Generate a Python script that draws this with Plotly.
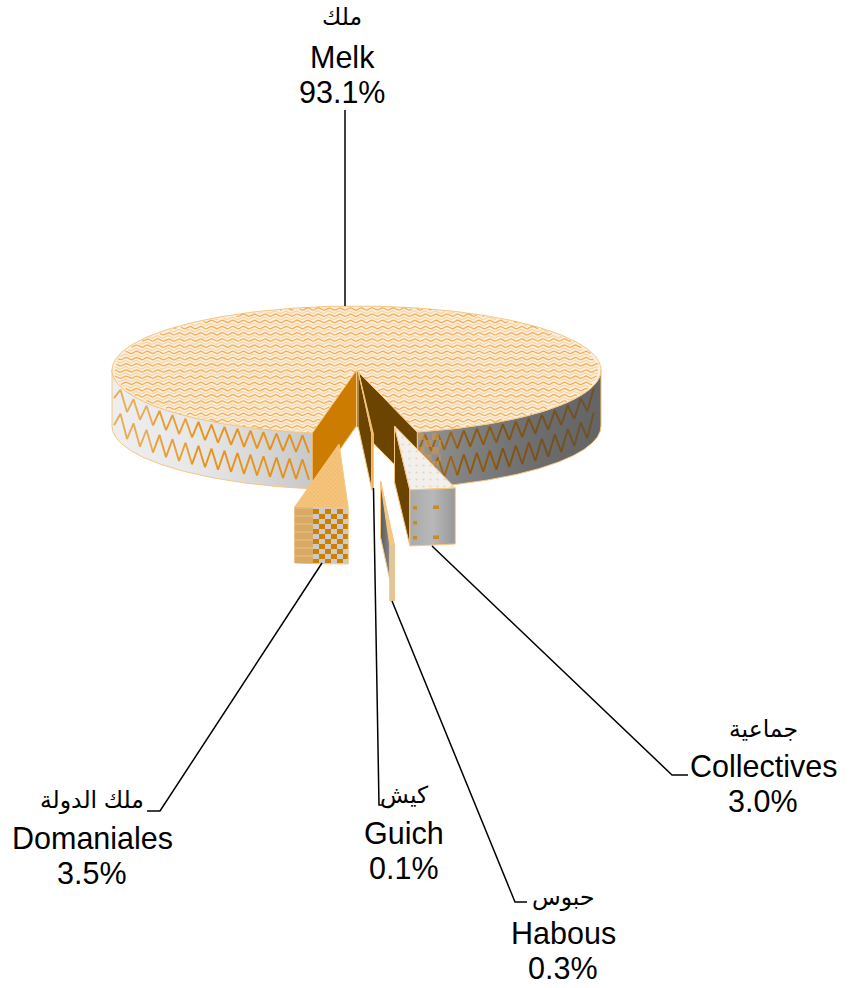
import numpy as np
import plotly.graph_objects as go

# ---- data ----
categories_fr = ["Melk", "Domaniales", "Habous", "Guich", "Collectives"]
categories_ar = ["ملك", "ملك الدولة", "حبوس", "كيش", "جماعية"]
shares = [93.1, 3.5, 0.3, 0.1, 3.0]

# ---- projection of the tilted disc, in page pixels ----
CX, CY, RX, RY, DEPTH = 356.5, 370.0, 244.5, 64.0, 56.0
START = 14.4  # angle at which Melk starts, measured from the front of the disc
ORANGE = (232, 148, 26)
EDGE = "#f6c681"

sweeps = [v / sum(shares) * 360 for v in shares]
melk_a = START
melk_b = START + sweeps[0]
dom_a = melk_b
dom_b = dom_a + sweeps[1]
hab_a = dom_b
hab_b = hab_a + sweeps[2]
gui_a = hab_b
gui_b = gui_a + sweeps[3]
col_a = gui_b
col_b = col_a + sweeps[4]


def px(phi, dx=0.0):
    return CX + RX * np.sin(np.radians(phi)) + dx


def py(phi, dy=0.0):
    return CY + RY * np.cos(np.radians(phi)) + dy


def arc(a, b, dx=0.0, dy=0.0, n=None):
    n = n or max(3, int(abs(b - a) * 2))
    t = np.linspace(a, b, n)
    return list(px(t, dx)), list(py(t, dy))


fig = go.Figure()


def poly(xs, ys, color=None, edge=EDGE, width=1.0, pattern=None, gradient=None):
    kw = {}
    if color:
        kw["fillcolor"] = color
    if pattern:
        kw["fillpattern"] = pattern
    if gradient:
        kw["fillgradient"] = dict(type="horizontal", colorscale=gradient)
    fig.add_trace(go.Scatter(x=xs, y=ys, mode="lines", fill="toself",
                             line=dict(color=edge, width=width), hoverinfo="skip", **kw))


def cells(x0, x1, y0, y1, w, h, color):
    xs, ys = [], []
    for j, top in enumerate(np.arange(y0, y1 - 0.5, h)):
        for i, left in enumerate(np.arange(x0, x1 - 0.5, w)):
            if (i + j) % 2 == 0:
                r, b = min(left + w, x1), min(top + h, y1)
                xs += [float(left), float(r), float(r), float(left), float(left), None]
                ys += [float(top), float(top), float(b), float(b), float(top), None]
    fig.add_trace(go.Scatter(x=xs, y=ys, mode="lines", fill="toself", fillcolor=color,
                             line=dict(width=0, color=color), hoverinfo="skip"))


def grey_at(x):
    return np.interp(x, [112, 200, 314, 418, 470, 540, 601], [238, 232, 200, 150, 128, 108, 100])


def side(a, b):
    xs, ys = arc(a, b)
    xb, yb = arc(b, a, dy=DEPTH)
    xmin, xmax = min(xs), max(xs)
    stops = []
    for f in np.linspace(0, 1, 9):
        g = int(grey_at(xmin + f * (xmax - xmin)))
        stops.append([float(f), f"rgb({g},{g},{g})"])
    poly(xs + xb + xs[:1], ys + yb + ys[:1], gradient=stops)


def zigzag(x_from, x_to):
    half = 6.5
    xs = np.arange(x_from, x_to + 1e-6, half)
    yrim = CY + RY * np.sqrt(np.clip(1 - ((xs - CX) / RX) ** 2, 0, 1))
    for top, low in ((3, 20), (27, 47)):
        offs = np.where(np.arange(len(xs)) % 2 == 0, low, top)
        for s in range(0, len(xs) - 1, 6):
            x = xs[s:s + 7]
            y = yrim[s:s + 7] + offs[s:s + 7]
            mid = x.mean()
            m = min(1.0, grey_at(mid) / 215 + 0.02)
            fade = np.interp(abs(mid - CX), [150, 240], [0.0, 0.35])
            bg = grey_at(mid)
            c = "rgb({},{},{})".format(*[int((v * m) * (1 - fade) + bg * fade) for v in ORANGE])
            fig.add_trace(go.Scatter(x=list(x), y=list(y), mode="lines",
                                     line=dict(color=c, width=1.9), hoverinfo="skip"))


def wall(phi, dx, dy, color=None, gradient=None):
    x0, y0 = CX + dx, CY + dy
    x1, y1 = px(phi, dx), py(phi, dy)
    poly([x0, x1, x1, x0, x0], [y0, y1, y1 + DEPTH, y0 + DEPTH, y0], color=color, gradient=gradient)


# ---- Melk: side, cut walls, top ----
side(melk_a, 90)
side(270, melk_b)
zigzag(float(px(melk_a)) + 1, CX + RX - 2)
zigzag(CX - RX + 2, float(px(melk_b)) - 1)
cells(float(px(melk_a)), 441, float(py(melk_a)) + 1, 466, 7.2, 7, "rgba(200,150,80,0.65)")
wall(melk_b, 0, 0, color="#cc7c00")
wall(melk_a, 0, 0, color="#6a4400")

xs, ys = arc(melk_a, melk_b, n=360)
poly([CX] + xs + [CX], [CY] + ys + [CY], color="#fbeedc")

wave_x, wave_y, wave_x2, wave_y2 = [], [], [], []
for k, row in enumerate(np.arange(CY - RY + 3, CY + RY, 3.1)):
    x = np.arange(CX - RX, CX + RX + 1, 1.5)
    y = row + 1.2 * np.sin(2 * np.pi * x / 10.7 + (k % 2) * 0.4)
    u, v = (x - CX) / RX, (y - CY) / RY
    ang = np.degrees(np.arctan2(u, v))
    inside = (u ** 2 + v ** 2 <= 0.985) & ~((ang > melk_b - 360) & (ang < melk_a))
    tx = wave_x if k % 2 else wave_x2
    ty = wave_y if k % 2 else wave_y2
    for xi, yi, ok in zip(x, y, inside):
        tx.append(float(xi) if ok else None)
        ty.append(float(yi) if ok else None)
    tx.append(None)
    ty.append(None)
fig.add_trace(go.Scatter(x=wave_x2, y=wave_y2, mode="lines", connectgaps=False,
                         line=dict(color="#f0ad55", width=1.2), hoverinfo="skip"))
fig.add_trace(go.Scatter(x=wave_x, y=wave_y, mode="lines", connectgaps=False,
                         line=dict(color="#f7d6a6", width=1.2), hoverinfo="skip"))

# ---- Guich: hardly pulled ----
GDX, GDY = 1.5, 0.0
wall(gui_a, GDX, GDY, color="#6a4400")
xs, ys = arc(gui_a, gui_b, GDX, GDY)
poly([CX + GDX] + xs + [CX + GDX], [CY + GDY] + ys + [CY + GDY], color="#f0b060")
xb, yb = arc(gui_b, gui_a, GDX, GDY + DEPTH)
poly(xs + xb + xs[:1], ys + yb + ys[:1], color="#e8a040")

# ---- Domaniales ----
DDX, DDY = -17.5, 74.0
xs, ys = arc(dom_a, dom_b, DDX, DDY)
poly([CX + DDX] + xs + [CX + DDX], [CY + DDY] + ys + [CY + DDY], color="#f4c277",
     pattern=dict(shape="x", size=3, solidity=0.3, fgcolor="#e9a040", bgcolor="#f5c57e"))
xb, yb = arc(dom_b, dom_a, DDX, DDY + DEPTH)
poly(xs + xb + xs[:1], ys + yb + ys[:1], color="#cbcbcb")
split = 313.0
keep = [i for i, x in enumerate(xs) if x <= split]
lx = [xs[i] for i in keep]
ly = [ys[i] for i in keep]
poly(lx + [split, split] + [lx[0], lx[0]], ly + [ly[-1], ly[-1] + DEPTH, ly[0] + DEPTH, ly[0]],
     color="#d9aa66", edge="rgba(0,0,0,0)",
     pattern=dict(shape="-", size=8, solidity=0.12, fgcolor="#f0d6ac", bgcolor="#d9aa66"))
cells(split, xs[-1] - 0.5, float(py(dom_b, DDY)) + 1, float(py(dom_b, DDY)) + DEPTH - 1, 6, 5, "#cf7f00")

# ---- Habous ----
HDX, HDY = 24.0, 111.0
wall(hab_b, HDX, HDY, gradient=[[0, "#585858"], [1, "#a0a0a0"]])
xs, ys = arc(hab_b, hab_a, HDX, HDY)
poly([CX + HDX] + xs + [CX + HDX], [CY + HDY] + ys + [CY + HDY], color="#f5c682")
xb, yb = arc(hab_a, hab_b, HDX, HDY + DEPTH)
poly(xs + xb + xs[:1], ys + yb + ys[:1], color="#dcc6a2")

# ---- Collectives ----
KDX, KDY = 38.0, 56.0
wall(col_a, KDX, KDY, color="#6a4400")
xs, ys = arc(col_a, col_b, KDX, KDY)
poly([CX + KDX] + xs + [CX + KDX], [CY + KDY] + ys + [CY + KDY], color="#f2f0ee",
     pattern=dict(shape=".", size=7, solidity=0.08, fgcolor="#efb56a", bgcolor="#f2f0ee"))
xb, yb = arc(col_b, col_a, KDX, KDY + DEPTH)
poly(xs + xb + xs[:1], ys + yb + ys[:1],
     gradient=[[0, "#aaaaaa"], [0.5, "#b8b8b8"], [1, "#989898"]])
dash_x, dash_y = [], []
for x0, x1, rows in ((413, 417, (506, 521, 536)), (433, 439, (505.5, 535.5))):
    for r in rows:
        dash_x += [x0, x1, x1, x0, x0, None]
        dash_y += [r, r, r + 3.5, r + 3.5, r, None]
fig.add_trace(go.Scatter(x=dash_x, y=dash_y, mode="none", fill="toself",
                         fillcolor="#c98a2c", hoverinfo="skip"))

# ---- leader lines ----
leaders = [
    ([345, 345], [110, 306]),
    ([322, 160, 147], [563, 811, 811]),
    ([373.5, 379, 383], [488, 805, 805]),
    ([392, 515, 527], [601, 902, 902]),
    ([432, 672, 688], [546, 775, 775]),
]
for lx, ly in leaders:
    fig.add_trace(go.Scatter(x=lx, y=ly, mode="lines", line=dict(color="black", width=1.5),
                             hoverinfo="skip"))

# ---- labels ----
label_x = [342, 92, 563, 404, 763]
arabic_y = [17, 800, 897, 795, 729]
french_y = [57, 838, 933, 833, 766]
percent_y = [92, 873, 968, 868, 801]
for x, ya, yf, yp, fr, ar, v in zip(label_x, arabic_y, french_y, percent_y,
                                    categories_fr, categories_ar, shares):
    fig.add_annotation(x=x, y=ya, text=ar, showarrow=False,
                       font=dict(size=23.5, family="Liberation Sans, DejaVu Sans", color="black"))
    fig.add_annotation(x=x, y=yf, text=fr, showarrow=False,
                       font=dict(size=30.5, family="Liberation Sans", color="black"))
    fig.add_annotation(x=x, y=yp, text=f"{v:.1f}%", showarrow=False,
                       font=dict(size=30.5, family="Liberation Sans", color="black"))

fig.update_layout(
    width=850, height=988, margin=dict(l=0, r=0, t=0, b=0),
    paper_bgcolor="white", plot_bgcolor="white", showlegend=False,
    xaxis=dict(range=[0, 850], visible=False, fixedrange=True),
    yaxis=dict(range=[988, 0], visible=False, fixedrange=True),
)
fig.write_html("out.html", config={"displayModeBar": False},
               post_script="document.body.style.margin='0';")
